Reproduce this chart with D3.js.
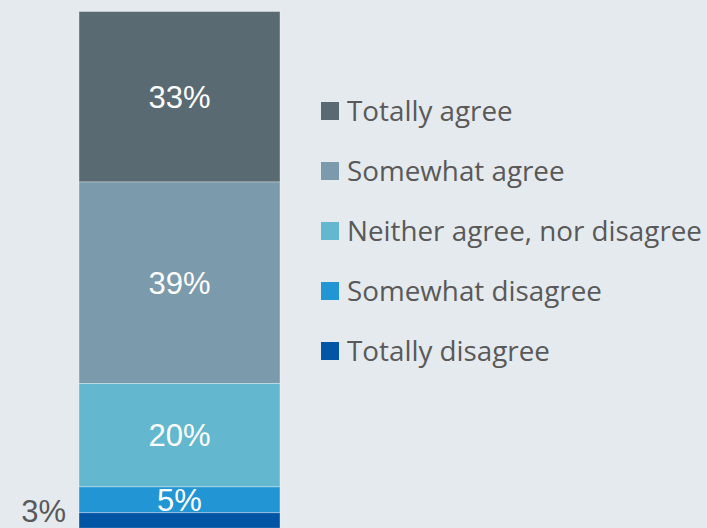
<!DOCTYPE html>
<meta charset="utf-8">
<style>
body { margin: 0; background: #e5eaee; }
svg { display: block; }
.val { font-family: "Liberation Sans", Arial, sans-serif; font-size: 31px; }
.legend text { font-family: "Open Sans", sans-serif; font-size: 27.8px; fill: #595959; }
</style>
<svg class="chart"></svg>
<script src="https://d3js.org/d3.v7.min.js"></script>
<script>
var categories = ["Totally agree", "Somewhat agree", "Neither agree, nor disagree", "Somewhat disagree", "Totally disagree"];
var values = [33, 39, 20, 5, 3];
var colors = ["#596a72", "#7b9aab", "#63b8cf", "#2295d5", "#0055a4"];

var width = 707, height = 528;
var svg = d3.select(".chart").attr("width", width).attr("height", height);

svg.append("rect").attr("width", width).attr("height", height).attr("fill", "#e5eaee");

// stack from the top: Totally agree first
var offsets = [], acc = 0;
values.forEach(function(v) { offsets.push(acc); acc += v; });

var y = d3.scaleLinear().domain([0, 100]).range([11.5, 528.2]);
var x = d3.scaleBand().domain(["all"]).range([79, 280]);

var seg = svg.selectAll("g.seg")
    .data(values)
  .enter().append("g")
    .attr("class", "seg");

seg.append("rect")
    .attr("x", x("all"))
    .attr("width", x.bandwidth())
    .attr("y", function(d, i) { return y(offsets[i]); })
    .attr("height", function(d, i) { return y(offsets[i] + d) - y(offsets[i]); })
    .attr("fill", function(d, i) { return colors[i]; })
    .attr("stroke", "rgba(255,255,255,0.35)")
    .attr("stroke-width", 1);

// small values go outside, to the left of the bar
seg.append("text")
    .attr("class", "val")
    .attr("x", function(d, i) { return d < 4 ? x("all") - 13 : x("all") + x.bandwidth() / 2; })
    .attr("y", function(d, i) { return d < 4 ? y(offsets[i]) - 2 : y(offsets[i] + d / 2); })
    .attr("dy", ".35em")
    .attr("text-anchor", function(d) { return d < 4 ? "end" : "middle"; })
    .attr("fill", function(d) { return d < 4 ? "#595959" : "#ffffff"; })
    .text(function(d) { return d + "%"; });

var legend = svg.append("g").attr("class", "legend")
    .selectAll("g")
    .data(categories)
  .enter().append("g")
    .attr("transform", function(d, i) { return "translate(321," + (111 + i * 60) + ")"; });

legend.append("rect")
    .attr("x", 0).attr("y", -9)
    .attr("width", 18).attr("height", 18)
    .attr("fill", function(d, i) { return colors[i]; });

legend.append("text")
    .attr("x", 26)
    .attr("dy", ".35em")
    .text(function(d) { return d; });
</script>
